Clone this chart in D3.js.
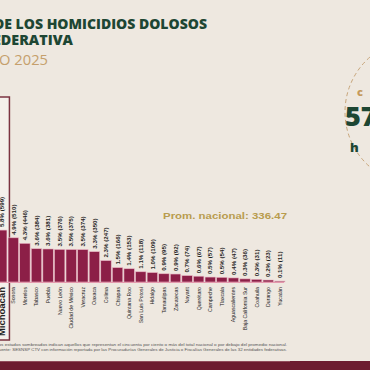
<!DOCTYPE html>
<html><head><meta charset="utf-8">
<script src="https://cdn.jsdelivr.net/npm/d3@7"></script>
<style>html,body{margin:0;padding:0;background:#eee8e0;overflow:hidden;} svg{display:block;}</style>
</head><body>
<script>
const categories = ["Michoacán","Sonora","Morelos","Tabasco","Puebla","Nuevo León","Ciudad de México","Veracruz","Oaxaca","Colima","Chiapas","Quintana Roo","San Luis Potosí","Hidalgo","Tamaulipas","Zacatecas","Nayarit","Querétaro","Campeche","Tlaxcala","Aguascalientes","Baja California Sur","Coahuila","Durango","Yucatán"];
const homicidios = [599,510,446,384,381,376,375,374,350,247,166,153,118,109,95,92,74,67,57,54,47,36,31,23,11];
const porcentajes = ["5.8%","4.9%","4.3%","3.6%","3.6%","3.5%","3.5%","3.5%","3.3%","2.3%","1.5%","1.4%","1.1%","1.0%","0.9%","0.9%","0.7%","0.6%","0.5%","0.5%","0.4%","0.3%","0.3%","0.2%","0.1%"];
const promedioNacional = 336.47;
const titleLines = ["DE LOS HOMICIDIOS DOLOSOS","EDERATIVA","O 2025"];
const footerLines = [
  "Los estados sombreados indican aquellos que representan el cincuenta por ciento o más del total nacional o por debajo del promedio nacional.",
  "Fuente: SESNSP CTV con información reportada por las Procuradurías Generales de Justicia o Fiscalías Generales de las 32 entidades federativas."
];

const W = 370, H = 370;
const svg = d3.select("body").append("svg").attr("width", W).attr("height", H);

svg.append("rect").attr("width", W).attr("height", H).attr("fill", "#eee8e0");

// Title
const tf = "'Open Sans','DejaVu Sans',sans-serif";
svg.append("text").attr("x", -6).attr("y", 29).attr("font-family", tf).attr("font-weight", 800)
  .attr("font-size", 14.5).attr("fill", "#1d4633").attr("textLength", 213).attr("lengthAdjust", "spacingAndGlyphs")
  .text(titleLines[0]);
svg.append("text").attr("x", -7).attr("y", 45).attr("font-family", tf).attr("font-weight", 800)
  .attr("font-size", 14.5).attr("fill", "#1d4633").attr("textLength", 80).attr("lengthAdjust", "spacingAndGlyphs")
  .text(titleLines[1]);
svg.append("text").attr("x", -1).attr("y", 65).attr("font-family", tf).attr("font-weight", 400)
  .attr("font-size", 14).attr("fill", "#c59f6c").attr("textLength", 49).attr("lengthAdjust", "spacingAndGlyphs")
  .text(titleLines[2]);

// Dashed circle on the right
svg.append("circle").attr("cx", 418).attr("cy", 112).attr("r", 73)
  .attr("fill", "none").attr("stroke", "#c7a57a").attr("stroke-width", 1).attr("stroke-dasharray", "4,3");
svg.append("text").attr("x", 357).attr("y", 96).attr("font-family", tf).attr("font-weight", 800)
  .attr("font-size", 11).attr("fill", "#c59a5c").text("c");
svg.append("text").attr("x", 345).attr("y", 126).attr("font-family", tf).attr("font-weight", 800)
  .attr("font-size", 27).attr("fill", "#1d4633").text("57");
svg.append("text").attr("x", 350).attr("y", 152).attr("font-family", tf).attr("font-weight", 800)
  .attr("font-size", 13).attr("fill", "#1d4633").text("h");

// Scales
const x = d3.scaleBand().domain(categories).range([-3.5, 285]).paddingInner(0.1).paddingOuter(0);
const y = d3.scaleLinear().domain([0, 600]).range([282, 230]);

// Highlight box for first category
const first = categories[0];
svg.append("rect").attr("x", x(first) - 1).attr("y", 97).attr("width", x.bandwidth() + 3.5).attr("height", 243)
  .attr("fill", "rgba(255,255,255,0.35)").attr("stroke", "#7b3341").attr("stroke-width", 1.5);

// Bars
svg.append("g").selectAll("rect").data(categories).join("rect")
  .attr("x", d => x(d)).attr("width", x.bandwidth())
  .attr("y", (d, i) => y(homicidios[i])).attr("height", (d, i) => y(0) - y(homicidios[i]))
  .attr("fill", "#8c1f47").attr("stroke", "#e9b6c4").attr("stroke-width", 0.6);

// Baseline
svg.append("line").attr("x1", -2).attr("x2", 284).attr("y1", y(0) + 0.5).attr("y2", y(0) + 0.5)
  .attr("stroke", "#e49aae").attr("stroke-width", 1.2);

// Value labels (rotated)
const lf = "'Liberation Sans','DejaVu Sans',sans-serif";
svg.append("g").selectAll("text").data(categories).join("text")
  .attr("transform", (d, i) => `translate(${x(d) + x.bandwidth() / 2 + 2.2},${y(homicidios[i]) - 3}) rotate(-90)`)
  .attr("font-family", lf).attr("font-weight", 700).attr("font-size", 6.2).attr("fill", "#1e1e1e")
  .attr("text-anchor", "start")
  .text((d, i) => `${porcentajes[i]} (${homicidios[i]})`);

// Category labels (rotated)
svg.append("g").selectAll("text").data(categories).join("text")
  .attr("transform", (d, i) => `translate(${x(d) + x.bandwidth() / 2 + (i === 0 ? 3.5 : 2)},${y(0) + 5}) rotate(-90)`)
  .attr("font-family", lf).attr("font-weight", (d, i) => i === 0 ? 700 : 400)
  .attr("font-size", (d, i) => i === 0 ? 9.5 : 5.2).attr("fill", "#222")
  .attr("text-anchor", "end")
  .text(d => d);

// Average label
svg.append("text").attr("x", 163).attr("y", 219).attr("font-family", lf).attr("font-weight", 700)
  .attr("font-size", 9.5).attr("fill", "#b89c4e").attr("textLength", 124).attr("lengthAdjust", "spacingAndGlyphs")
  .text(`Prom. nacional: ${promedioNacional}`);

// Footer
footerLines.forEach((t, i) => {
  svg.append("text").attr("x", -4).attr("y", 346 + i * 4.5).attr("font-family", lf).attr("font-size", 3.8)
    .attr("fill", "#555").attr("textLength", 291).attr("lengthAdjust", "spacingAndGlyphs").text(t);
});

// Bottom band
svg.append("rect").attr("x", 0).attr("y", 361).attr("width", W).attr("height", 9).attr("fill", "#6d1c30");
svg.append("line").attr("x1", 0).attr("x2", 290).attr("y1", 361.5).attr("y2", 361.5).attr("stroke", "#9a5a68").attr("stroke-width", 0.8);
</script>
</body></html>
